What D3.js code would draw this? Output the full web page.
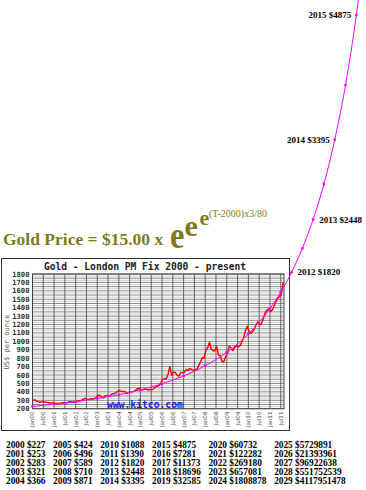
<!DOCTYPE html>
<html>
<head>
<meta charset="utf-8">
<script src="https://cdn.jsdelivr.net/npm/d3@7/dist/d3.min.js"></script>
<style>
  body { margin: 0; background: #fff; }
  svg { display: block; }
</style>
</head>
<body>
<div id="wrapper"></div>
<script>
// projection table shown under the chart
const tableYears = [2000, 2001, 2002, 2003, 2004, 2005, 2006, 2007, 2008, 2009,
    2010, 2011, 2012, 2013, 2014, 2015, 2016, 2017, 2018, 2019,
    2020, 2021, 2022, 2023, 2024, 2025, 2026, 2027, 2028, 2029];
const tablePrices = [227, 253, 283, 321, 366, 424, 496, 589, 710, 871,
    1088, 1390, 1820, 2448, 3395, 4875, 7281, 11373, 18696, 32585,
    60732, 122282, 269180, 657081, 1808878, 5729891, 21393961, 96922638, 551752539, 4117951478];

// extra half-year dots on the projection curve
const halfYears = [2011.5, 2012.5, 2013.5, 2014.5];
const halfPrices = [1584, 2105, 2869, 4044];

// years that get a callout next to the curve
const calloutYears = [2012, 2013, 2014, 2015];

// London PM fix, monthly, Jan 2000 .. Aug 2011
const goldMonthly = [
    300, 305, 288, 284, 276, 287, 283, 276, 274, 271, 266, 272,
    265, 262, 263, 260, 272, 270, 267, 273, 283, 283, 276, 276,
    282, 296, 294, 302, 314, 322, 314, 310, 319, 317, 319, 333,
    357, 359, 340, 328, 355, 356, 351, 359, 378, 379, 389, 407,
    414, 405, 406, 404, 384, 392, 398, 400, 405, 420, 439, 442,
    424, 423, 434, 429, 422, 430, 424, 437, 456, 470, 476, 510,
    549, 555, 557, 610, 700, 596, 633, 632, 598, 586, 627, 629,
    631, 665, 654, 679, 667, 655, 665, 665, 712, 754, 806, 803,
    889, 922, 990, 909, 888, 889, 939, 839, 829, 760, 760, 816,
    858, 943, 924, 890, 928, 945, 934, 949, 996, 1043, 1127, 1180,
    1118, 1095, 1113, 1148, 1205, 1233, 1193, 1215, 1271, 1343, 1370, 1391,
    1356, 1372, 1424, 1474, 1512, 1529, 1572, 1700
];

const xTickLabels = ["Jan00", "Jul00", "Jan01", "Jul01", "Jan02", "Jul02", "Jan03", "Jul03",
    "Jan04", "Jul04", "Jan05", "Jul05", "Jan06", "Jul06", "Jan07", "Jul07",
    "Jan08", "Jul08", "Jan09", "Jul09", "Jan10", "Jul10", "Jan11", "Jul11"];
const yTicks = [200, 300, 400, 500, 600, 700, 800, 900, 1000, 1100, 1200, 1300, 1400, 1500, 1600, 1700, 1800];

const W = 366, H = 490;
const olive = "#7f7a18";
const serif = "'Liberation Serif', 'Times New Roman', serif";
const mono = "'DejaVu Sans Mono', monospace";

const svg = d3.select("#wrapper").append("svg")
    .attr("width", W)
    .attr("height", H);

// same scales for the kitco chart and the projection curve
const xScaler = d3.scaleLinear()
    .domain([2000, 2011.65])
    .range([32.5, 284]);
const yScaler = d3.scaleLinear()
    .domain([200, 1800])
    .range([408.7, 274]);

// ---- kitco chart box
svg.append("rect")
    .attr("x", 1.5).attr("y", 258.5)
    .attr("width", 288).attr("height", 172)
    .attr("fill", "#fff")
    .attr("stroke", "#333");

svg.append("text")
    .attr("x", 145).attr("y", 269.5)
    .attr("text-anchor", "middle")
    .style("font-family", mono)
    .style("font-size", "9.6px")
    .style("font-weight", "bold")
    .attr("fill", "#222")
    .text("Gold - London PM Fix 2000 - present");

const grid = svg.append("g");
grid.selectAll("line.h")
    .data(d3.range(200, 1801, 25))
    .join("line")
    .attr("x1", xScaler(2000)).attr("x2", 284)
    .attr("y1", d => yScaler(d)).attr("y2", d => yScaler(d))
    .attr("stroke", d => d % 50 === 0 ? "#6a6a6a" : "#c4c4c4")
    .attr("stroke-width", 0.8);

grid.selectAll("line.v")
    .data(xTickLabels)
    .join("line")
    .attr("x1", (d, i) => xScaler(2000 + i / 2))
    .attr("x2", (d, i) => xScaler(2000 + i / 2))
    .attr("y1", yScaler(1800)).attr("y2", yScaler(200))
    .attr("stroke", "#555")
    .attr("stroke-width", 0.9);

grid.append("rect")
    .attr("x", xScaler(2000)).attr("y", yScaler(1800))
    .attr("width", 284 - xScaler(2000))
    .attr("height", yScaler(200) - yScaler(1800))
    .attr("fill", "none")
    .attr("stroke", "#444");

// y axis labels
svg.append("g").selectAll("text")
    .data(yTicks)
    .join("text")
    .attr("x", 29.5)
    .attr("y", d => yScaler(d))
    .attr("dy", "0.35em")
    .attr("text-anchor", "end")
    .style("font-family", mono)
    .style("font-size", "7.2px")
    .style("font-weight", "bold")
    .attr("fill", "#333")
    .text(d => d);

svg.append("text")
    .attr("transform", "translate(7,342) rotate(-90)")
    .attr("text-anchor", "middle")
    .attr("dy", "0.35em")
    .style("font-family", mono)
    .style("font-size", "7px")
    .attr("fill", "#555")
    .text("US$ per ounce");

// x axis labels, rotated
svg.append("g").selectAll("text")
    .data(xTickLabels)
    .join("text")
    .attr("transform", (d, i) => `translate(${xScaler(2000 + i / 2)},411.5) rotate(-90)`)
    .attr("text-anchor", "end")
    .attr("dy", "0.35em")
    .style("font-family", "'DejaVu Sans', sans-serif")
    .style("font-size", "5.6px")
    .attr("fill", "#555")
    .text(d => d);

svg.append("text")
    .attr("x", 107).attr("y", 407.5)
    .style("font-family", mono)
    .style("font-size", "9.7px")
    .style("font-weight", "bold")
    .attr("fill", "#1a1aff")
    .text("www.kitco.com");

// red gold price line
const goldLine = d3.line()
    .x((d, i) => xScaler(2000 + i / 12 + 0.03))
    .y(d => yScaler(d));
svg.append("path")
    .datum(goldMonthly)
    .attr("d", goldLine)
    .attr("fill", "none")
    .attr("stroke", "#ff0000")
    .attr("stroke-width", 1.4)
    .attr("stroke-linejoin", "round");

// ---- projection curve
const curvePts = tableYears.map((y, i) => ({year: y, price: tablePrices[i]}))
    .filter(d => d.year <= 2016)
    .concat(halfYears.map((y, i) => ({year: y, price: halfPrices[i]})))
    .sort((a, b) => a.year - b.year);

const curveLine = d3.line()
    .x(d => xScaler(d.year))
    .y(d => yScaler(d.price))
    .curve(d3.curveMonotoneX);

svg.append("path")
    .datum(curvePts)
    .attr("d", curveLine)
    .attr("fill", "none")
    .attr("stroke", "#ff00ff")
    .attr("stroke-width", 1);

svg.append("g").selectAll("circle")
    .data(curvePts.filter(d => d.year <= 2015))
    .join("circle")
    .attr("cx", d => xScaler(d.year))
    .attr("cy", d => yScaler(d.price))
    .attr("r", 1.4)
    .attr("fill", "#ff00ff");

// callouts: first two to the right of the curve, last two to the left
svg.append("g").selectAll("text")
    .data(calloutYears)
    .join("text")
    .attr("x", (d, i) => xScaler(d) + (i < 2 ? 6 : -5))
    .attr("y", d => yScaler(tablePrices[tableYears.indexOf(d)]))
    .attr("dy", "0.35em")
    .attr("text-anchor", (d, i) => i < 2 ? "start" : "end")
    .style("font-family", serif)
    .style("font-size", "9px")
    .style("font-weight", "bold")
    .attr("fill", "#000")
    .text(d => `${d} $${tablePrices[tableYears.indexOf(d)]}`);

// ---- formula
const formula = svg.append("g")
    .style("font-family", serif)
    .style("font-weight", "bold")
    .attr("fill", olive);
formula.append("text")
    .attr("x", 3).attr("y", 245)
    .style("font-size", "17.5px")
    .text("Gold Price = $15.00 x");
formula.append("text")
    .attr("transform", "translate(170,248) scale(0.83,1)")
    .style("font-size", "39px")
    .text("e");
formula.append("text")
    .attr("x", 184.5).attr("y", 236)
    .style("font-size", "30px")
    .text("e");
formula.append("text")
    .attr("x", 199.5).attr("y", 224.5)
    .style("font-size", "22px")
    .text("e");
formula.append("text")
    .attr("x", 209).attr("y", 216.5)
    .style("font-size", "10px")
    .style("font-weight", "normal")
    .text("(T-2000)x3/80");

// ---- table: 6 columns of 5 rows
const table = svg.append("g")
    .style("font-family", serif)
    .style("font-size", "9.3px")
    .style("font-weight", "bold")
    .attr("fill", "#000");
let colX = 6;
d3.range(6).forEach(c => {
    const cells = table.append("g").selectAll("text")
        .data(tableYears.slice(c * 5, c * 5 + 5).map((y, r) => ({year: y, price: tablePrices[c * 5 + r]})))
        .join("text")
        .attr("x", colX)
        .attr("y", (d, r) => 447.5 + r * 9.2)
        .text(d => `${d.year} $${d.price}`);
    const widest = d3.max(cells.nodes(), n => n.getComputedTextLength());
    colX += widest + 7.6;
});
</script>
</body>
</html>
